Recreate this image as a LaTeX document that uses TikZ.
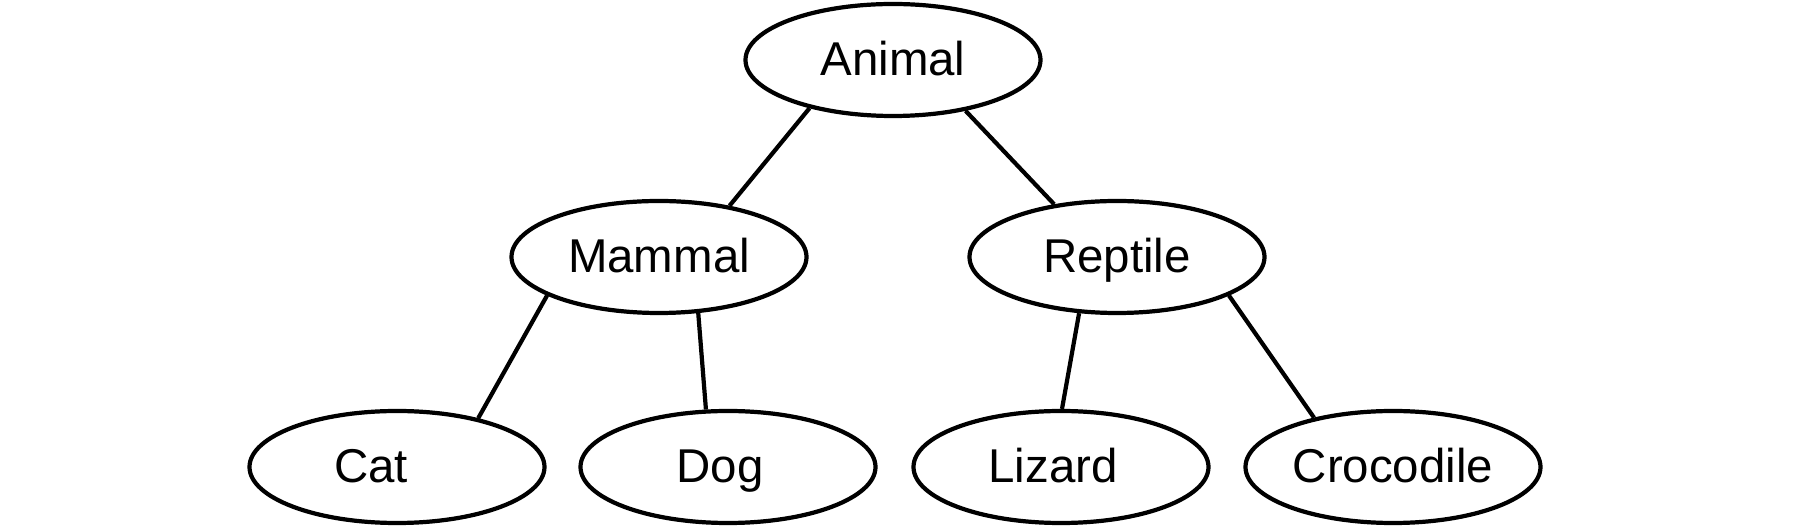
\documentclass[tikz,border=0pt]{standalone}
\usepackage{fontspec}
\setmainfont{Liberation Sans}
\usetikzlibrary{shapes.geometric}

\begin{document}
\begin{tikzpicture}[
    node distance=2cm,
]

\tikzstyle{oval} = [ellipse, inner sep=0pt, minimum width=2.95cm, minimum height=1.12cm, text height=12pt, text depth=3pt, draw=black, line width=1.2pt, font=\fontsize{13.5}{16}\selectfont]
\tikzstyle{edge} = [line width=1.2pt]

\useasboundingbox (0,0) rectangle (18,-5.26);

\node (animal) [oval] at (8.93,-0.60) {Animal};

\node (mammal) [oval, below of=animal, xshift=-2.34cm, yshift=0.03cm] {Mammal};
\node (reptile) [oval, below of=animal, xshift=2.24cm, yshift=0.03cm] {Reptile};

% leaf labels sit a little left of centre
\node (cat) [oval, below of=mammal, xshift=-2.62cm, yshift=-0.1cm] {Cat\hspace*{0.52cm}};
\node (dog) [oval, below of=mammal, xshift=0.69cm, yshift=-0.1cm] {Dog\hspace*{0.16cm}};
\node (lizard) [oval, below of=reptile, xshift=-0.56cm, yshift=-0.1cm] {Lizard\hspace*{0.16cm}};
\node (crocodile) [oval, below of=reptile, xshift=2.76cm, yshift=-0.1cm] {Crocodile};

\draw[edge] (animal.-150) -- (mammal.36);
\draw[edge] (animal.-35) -- (reptile.140);

\draw[edge] (mammal.-161) -- (cat.31);
\draw[edge] (mammal.-55) -- (dog.111);
\draw[edge] (reptile.-124) -- (lizard.89);
\draw[edge] (reptile.-19) -- (crocodile.148);

\end{tikzpicture}
\end{document}
